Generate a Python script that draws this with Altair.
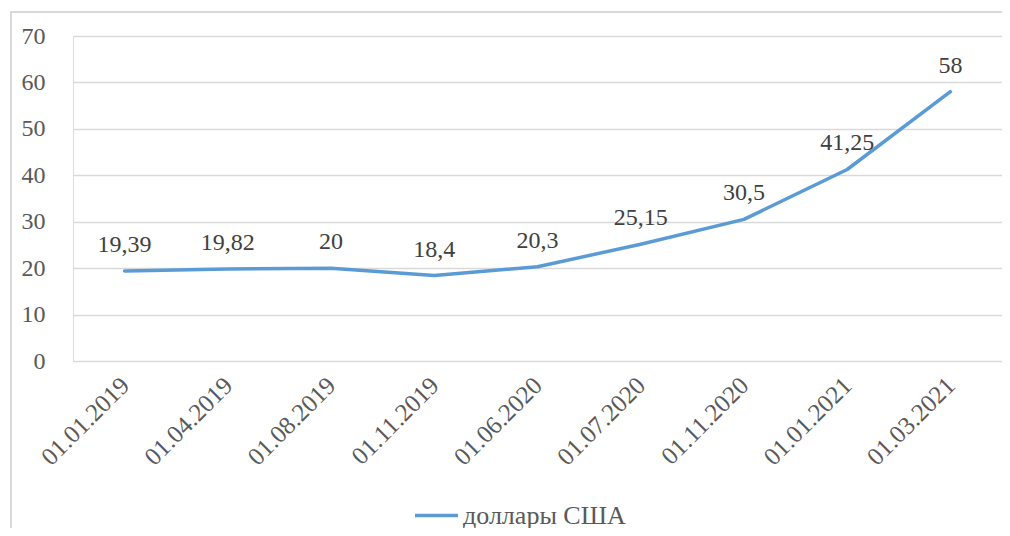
import altair as alt
import pandas as pd

dates = ["01.01.2019", "01.04.2019", "01.08.2019", "01.11.2019", "01.06.2020",
         "01.07.2020", "01.11.2020", "01.01.2021", "01.03.2021"]
values = [19.39, 19.82, 20, 18.4, 20.3, 25.15, 30.5, 41.25, 58]
labels = ["19,39", "19,82", "20", "18,4", "20,3", "25,15", "30,5", "41,25", "58"]
series = "доллары США"

df = pd.DataFrame({"date": dates, "value": values, "label": labels, "series": series})

FONT = "Times New Roman, Liberation Serif, serif"

x = alt.X("date:N", sort=dates, title=None,
          scale=alt.Scale(paddingInner=1, paddingOuter=0.5),
          axis=alt.Axis(labelAngle=-45, labelAlign="right", labelBaseline="middle",
                        labelPadding=20, domain=False, ticks=False,
                        labelFont=FONT, labelFontSize=25, labelColor="#595959"))
y = alt.Y("value:Q", title=None,
          scale=alt.Scale(domain=[0, 70], nice=False),
          axis=alt.Axis(values=[0, 10, 20, 30, 40, 50, 60, 70], domain=False, ticks=False,
                        grid=True, gridColor="#d9d9d9", gridWidth=1.3,
                        labelPadding=28, labelFont=FONT, labelFontSize=24, labelColor="#595959"))

border = alt.Chart(df).mark_rect(fill=None, stroke="#d9d9d9", strokeWidth=2).encode(
    x=alt.value(-62), x2=alt.value(1000), y=alt.value(-24), y2=alt.value(520)
)

line = alt.Chart(df).mark_line(strokeWidth=3.5, strokeCap="round", strokeJoin="round").encode(
    x=x, y=y,
    color=alt.Color("series:N", scale=alt.Scale(range=["#5B9BD5"]),
                    legend=alt.Legend(title=None, orient="none", legendX=340, legendY=456,
                                      symbolType="stroke", symbolSize=1849, symbolStrokeWidth=3.5,
                                      labelFont=FONT, labelFontSize=26, labelColor="#595959",
                                      labelOffset=3, labelLimit=400))
)

text = alt.Chart(df).mark_text(font=FONT, fontSize=24, color="#404040",
                               baseline="alphabetic", dy=-19).encode(
    x=alt.X("date:N", sort=dates), y="value:Q", text="label:N"
)

chart = alt.layer(border, line, text).properties(
    width=929, height=325,
    autosize=alt.AutoSizeParams(type="none"),
    padding={"left": 65, "top": 28, "right": 0, "bottom": 167},
).configure_view(stroke=None).configure(background="white", font=FONT)

chart.save("out.html", embed_options={"renderer": "svg", "actions": False})
